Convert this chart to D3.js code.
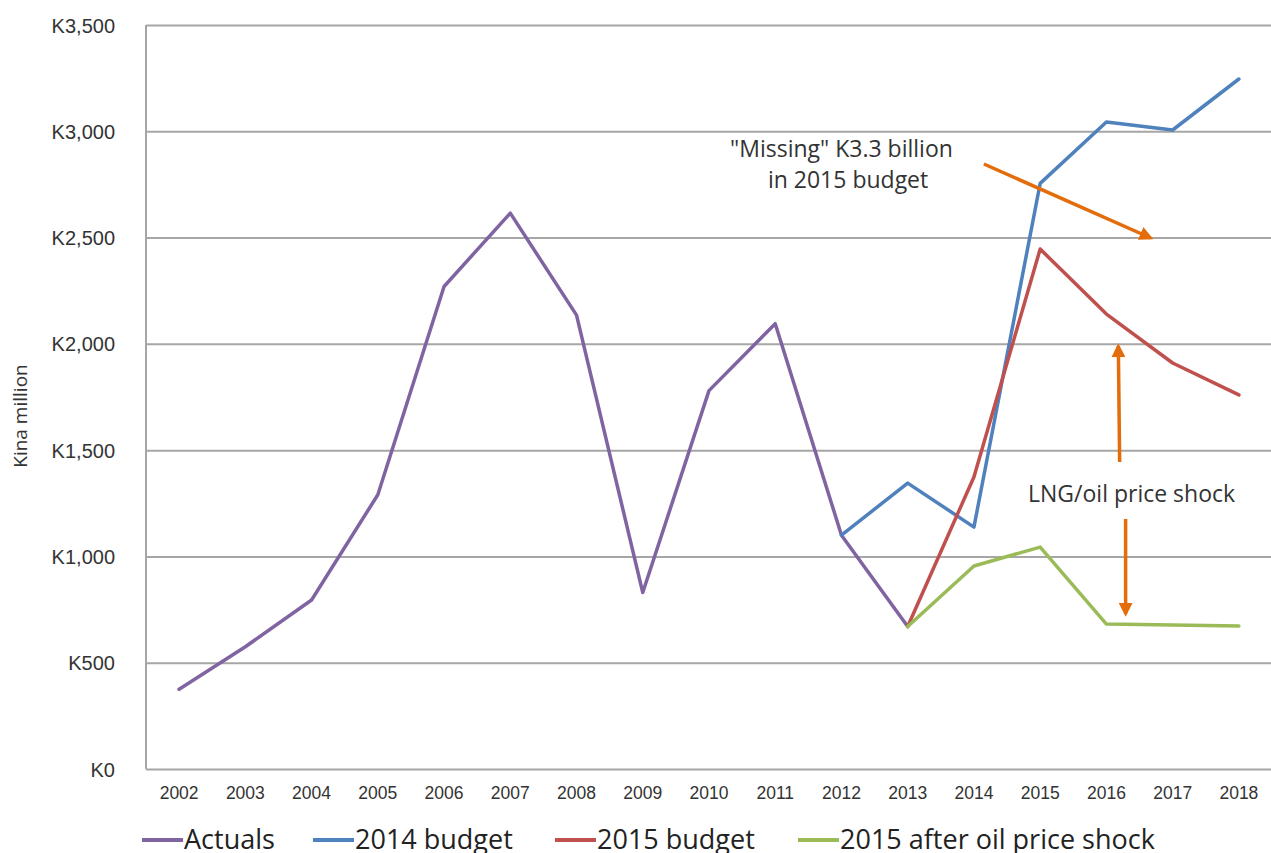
<!DOCTYPE html>
<html lang="en">
<head>
    <meta charset="UTF-8">
    <title>Kina million</title>
    <script src="https://d3js.org/d3.v7.min.js"></script>
    <style>
        body { margin: 0; background: #fff; }
        svg { font-family: "Open Sans", "Noto Sans", sans-serif; }
        .axis text { fill: #333; }
        .axis .domain { display: none; }
        .grid line { stroke: #a6a6a6; stroke-width: 2; }
        .grid .domain { display: none; }
        .series { fill: none; stroke-width: 3.5; stroke-linejoin: round; stroke-linecap: round; }
        .note { fill: #333; font-size: 23px; text-anchor: middle; }
        .arrow { stroke: #e46c0a; stroke-width: 3.5; fill: none; }
    </style>
</head>
<body>
    <svg id="chart"></svg>

    <script>
        // Data
        var years = ["2002","2003","2004","2005","2006","2007","2008","2009","2010","2011","2012","2013","2014","2015","2016","2017","2018"];
        var actuals = [375, 575, 795, 1290, 2270, 2615, 2135, 830, 1780, 2095, 1100, 670, null, null, null, null, null];
        var budget2014 = [null, null, null, null, null, null, null, null, null, null, 1100, 1345, 1138, 2755, 3044, 3006, 3246];
        var budget2015 = [null, null, null, null, null, null, null, null, null, null, null, 670, 1374, 2446, 2140, 1910, 1760];
        var afterShock = [null, null, null, null, null, null, null, null, null, null, null, 670, 955, 1044, 682, 677, 673];
        var seriesNames = ["Actuals", "2014 budget", "2015 budget", "2015 after oil price shock"];
        var seriesColors = ["#8064a2", "#4f81bd", "#c0504d", "#9bbb59"];
        var yTicks = [0, 500, 1000, 1500, 2000, 2500, 3000, 3500];

        var allSeries = [actuals, budget2014, budget2015, afterShock];

        // SVG size and plot area
        var W = 1271, H = 853;
        var margin = { top: 25, right: -1, bottom: 84, left: 146 };
        var width = W - margin.left - margin.right;
        var height = H - margin.top - margin.bottom;

        var svg = d3.select("#chart")
            .attr("width", W)
            .attr("height", H)
            .append("g")
            .attr("transform", "translate(" + margin.left + "," + margin.top + ")");

        // Scales
        var xScale = d3.scaleBand()
            .domain(years)
            .range([0, width]);

        var yScale = d3.scaleLinear()
            .domain([0, 3500])
            .range([height, 0]);

        var xc = d => xScale(d) + xScale.bandwidth() / 2;
        // fractional year position for annotations
        var xAt = yr => xc("2002") + (yr - 2002) * xScale.step();

        // Gridlines
        svg.append("g")
            .attr("class", "grid")
            .call(d3.axisLeft(yScale).tickValues(yTicks).tickSize(-width).tickFormat(""));

        // left axis line
        svg.append("line")
            .attr("x1", 0).attr("x2", 0)
            .attr("y1", yScale(3500)).attr("y2", yScale(0))
            .attr("stroke", "#a6a6a6").attr("stroke-width", 2);

        // y-axis labels
        svg.append("g")
            .attr("class", "axis")
            .attr("transform", "translate(-28,0)")
            .call(d3.axisLeft(yScale).tickValues(yTicks).tickSize(0)
                .tickFormat(d => "K" + d3.format(",")(d)))
            .selectAll("text")
            .style("font-size", "20px")
            .attr("dy", "0.35em");

        // x-axis labels
        svg.append("g")
            .attr("class", "axis")
            .attr("transform", "translate(0," + height + ")")
            .call(d3.axisBottom(xScale).tickSize(0).tickPadding(18))
            .selectAll("text")
            .style("font-size", "17.5px");

        // y-axis title
        svg.append("text")
            .attr("transform", "translate(" + (-119) + "," + (height / 2 + 19) + ") rotate(-90)")
            .attr("text-anchor", "middle")
            .attr("fill", "#333")
            .style("font-size", "19px")
            .text("Kina million");

        // Lines
        var line = d3.line()
            .defined(d => d.v != null)
            .x(d => xc(d.year))
            .y(d => yScale(d.v));

        allSeries.forEach(function(vals, i) {
            var pts = years.map((y, j) => ({ year: y, v: vals[j] }));
            svg.append("path")
                .datum(pts)
                .attr("class", "series")
                .attr("stroke", seriesColors[i])
                .attr("d", line);
        });

        // Arrow marker
        svg.append("defs").append("marker")
            .attr("id", "head")
            .attr("viewBox", "0 0 10 10")
            .attr("refX", 8).attr("refY", 5)
            .attr("markerWidth", 4).attr("markerHeight", 4)
            .attr("markerUnits", "strokeWidth")
            .attr("orient", "auto")
            .append("path")
            .attr("d", "M0,0 L10,5 L0,10 Z")
            .attr("fill", "#e46c0a");

        // Annotations (data coordinates)
        var arrows = [
            { x1: 2014.15, y1: 2846, x2: 2016.67, y2: 2498 },
            { x1: 2016.2, y1: 1444, x2: 2016.18, y2: 1990 },
            { x1: 2016.29, y1: 1176, x2: 2016.29, y2: 729 }
        ];
        svg.selectAll(".arrow")
            .data(arrows)
            .enter().append("line")
            .attr("class", "arrow")
            .attr("x1", d => xAt(d.x1)).attr("y1", d => yScale(d.y1))
            .attr("x2", d => xAt(d.x2)).attr("y2", d => yScale(d.y2))
            .attr("marker-end", "url(#head)");

        svg.append("text").attr("class", "note")
            .attr("x", xAt(2012.0)).attr("y", yScale(2879))
            .text("\"Missing\" K3.3 billion");
        svg.append("text").attr("class", "note")
            .attr("x", xAt(2012.1)).attr("y", yScale(2733))
            .text("in 2015 budget");
        svg.append("text").attr("class", "note")
            .attr("x", xAt(2016.38)).attr("y", yScale(1256))
            .text("LNG/oil price shock");

        // Legend
        var legendX = [142, 313, 555, 798];
        var legend = d3.select("#chart").append("g");
        seriesNames.forEach(function(name, i) {
            var g = legend.append("g").attr("transform", "translate(" + legendX[i] + ",840)");
            g.append("line")
                .attr("x1", 0).attr("x2", 41)
                .attr("stroke", seriesColors[i])
                .attr("stroke-width", 4);
            g.append("text")
                .attr("x", 42).attr("y", 9)
                .attr("fill", "#222")
                .style("font-size", "27px")
                .text(name);
        });
    </script>
</body>
</html>
